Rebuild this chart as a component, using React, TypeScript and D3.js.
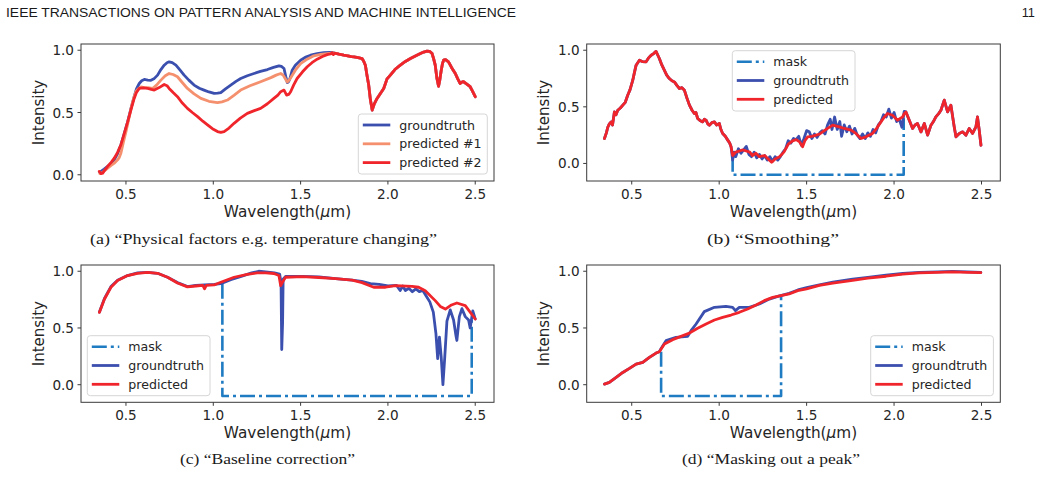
import * as d3 from "d3";

type Pt = [number, number];

// tick values shared by all four panels
const xTicks = [0.5, 1.0, 1.5, 2.0, 2.5];
const yTicks = [0.0, 0.5, 1.0];

// (a) shared tail where the three curves coincide
const tailA: Pt[] = [
  [1.70, 0.975], [1.72, 0.968], [1.747, 0.96], [1.77, 0.955], [1.79, 0.948], [1.805, 0.947],
  [1.83, 0.94], [1.852, 0.933], [1.862, 0.91], [1.871, 0.88], [1.88, 0.8], [1.89, 0.72],
  [1.9, 0.6], [1.91, 0.52], [1.922, 0.57], [1.938, 0.613], [1.956, 0.65], [1.976, 0.693],
  [1.995, 0.77], [2.014, 0.8], [2.04, 0.845], [2.071, 0.88], [2.1, 0.91], [2.129, 0.933],
  [2.16, 0.955], [2.186, 0.973], [2.205, 0.985], [2.224, 0.992], [2.24, 0.99], [2.253, 0.973],
  [2.262, 0.93], [2.271, 0.88], [2.28, 0.78], [2.29, 0.71], [2.297, 0.76], [2.304, 0.827],
  [2.312, 0.89], [2.319, 0.92], [2.33, 0.925], [2.347, 0.907], [2.365, 0.86], [2.386, 0.813],
  [2.4, 0.77], [2.414, 0.733], [2.425, 0.745], [2.433, 0.747], [2.45, 0.73], [2.471, 0.707],
  [2.485, 0.67], [2.5, 0.627],
];

const groundtruthA: Pt[] = [
  [0.35, 0.02], [0.357, 0.027], [0.375, 0.045], [0.395, 0.067], [0.415, 0.09], [0.433, 0.12],
  [0.452, 0.17], [0.471, 0.24], [0.49, 0.33], [0.51, 0.427], [0.528, 0.53], [0.547, 0.627],
  [0.56, 0.69], [0.576, 0.733], [0.59, 0.755], [0.605, 0.765], [0.625, 0.76], [0.643, 0.758],
  [0.66, 0.77], [0.681, 0.8], [0.7, 0.845], [0.719, 0.88], [0.735, 0.9], [0.747, 0.907],
  [0.765, 0.9], [0.786, 0.88], [0.81, 0.84], [0.833, 0.8], [0.86, 0.76], [0.89, 0.72],
  [0.92, 0.695], [0.947, 0.68], [0.975, 0.665], [1.005, 0.653], [1.025, 0.655], [1.043, 0.66],
  [1.07, 0.69], [1.1, 0.72], [1.13, 0.75], [1.157, 0.773], [1.195, 0.795], [1.233, 0.813],
  [1.27, 0.83], [1.31, 0.845], [1.345, 0.862], [1.376, 0.875], [1.39, 0.87], [1.405, 0.853],
  [1.415, 0.79], [1.424, 0.74], [1.432, 0.75], [1.439, 0.773], [1.452, 0.84], [1.47, 0.88],
  [1.5, 0.92], [1.53, 0.945], [1.557, 0.96], [1.595, 0.972], [1.633, 0.981], [1.665, 0.982],
  [1.69, 0.98],
];

const predicted1A: Pt[] = [
  [0.35, 0.01], [0.357, 0.01], [0.375, 0.03], [0.395, 0.053], [0.415, 0.075], [0.433, 0.093],
  [0.452, 0.12], [0.462, 0.14], [0.471, 0.173], [0.485, 0.26], [0.5, 0.347], [0.515, 0.44],
  [0.529, 0.533], [0.543, 0.61], [0.557, 0.667], [0.57, 0.69], [0.586, 0.705], [0.605, 0.7],
  [0.624, 0.699], [0.652, 0.693], [0.675, 0.72], [0.7, 0.76], [0.725, 0.795], [0.747, 0.813],
  [0.77, 0.805], [0.795, 0.787], [0.82, 0.745], [0.852, 0.693], [0.89, 0.65], [0.929, 0.613],
  [0.975, 0.59], [1.024, 0.579], [1.05, 0.585], [1.081, 0.6], [1.12, 0.64], [1.157, 0.68],
  [1.21, 0.715], [1.271, 0.747], [1.33, 0.78], [1.36, 0.8], [1.386, 0.813], [1.4, 0.8],
  [1.415, 0.765], [1.424, 0.745], [1.435, 0.76], [1.447, 0.787], [1.47, 0.84], [1.5, 0.893],
  [1.54, 0.93], [1.576, 0.955], [1.615, 0.967], [1.652, 0.973], [1.69, 0.978],
];

const predicted2A: Pt[] = [
  [0.347, 0.027], [0.357, 0.01], [0.367, 0.013], [0.38, 0.04], [0.395, 0.067], [0.415, 0.1],
  [0.433, 0.133], [0.452, 0.18], [0.471, 0.24], [0.49, 0.33], [0.51, 0.427], [0.528, 0.52],
  [0.547, 0.613], [0.56, 0.66], [0.576, 0.693], [0.6, 0.697], [0.624, 0.693], [0.645, 0.685],
  [0.662, 0.68], [0.69, 0.7], [0.719, 0.725], [0.735, 0.715], [0.747, 0.693], [0.77, 0.66],
  [0.795, 0.627], [0.82, 0.58], [0.852, 0.533], [0.88, 0.5], [0.91, 0.467], [0.94, 0.43],
  [0.967, 0.4], [0.995, 0.37], [1.024, 0.347], [1.043, 0.34], [1.062, 0.347], [1.09, 0.375],
  [1.119, 0.413], [1.155, 0.455], [1.195, 0.493], [1.235, 0.515], [1.271, 0.533], [1.31, 0.57],
  [1.347, 0.613], [1.37, 0.64], [1.386, 0.667], [1.405, 0.68], [1.42, 0.64], [1.432, 0.645],
  [1.443, 0.667], [1.46, 0.72], [1.48, 0.773], [1.51, 0.825], [1.538, 0.867], [1.565, 0.9],
  [1.595, 0.928], [1.625, 0.95], [1.652, 0.965], [1.672, 0.97], [1.68, 0.98], [1.688, 0.965],
  [1.695, 0.975],
];

// (b) smoothing: identical outside the mask
const leftB: Pt[] = [
  [0.344, 0.22], [0.355, 0.27], [0.363, 0.32], [0.372, 0.35], [0.382, 0.367], [0.39, 0.34],
  [0.401, 0.455], [0.41, 0.43], [0.42, 0.47], [0.435, 0.49], [0.449, 0.515], [0.463, 0.54],
  [0.477, 0.603], [0.49, 0.65], [0.506, 0.735], [0.515, 0.8], [0.525, 0.868], [0.544, 0.912],
  [0.56, 0.9], [0.582, 0.897], [0.595, 0.93], [0.611, 0.956], [0.625, 0.97], [0.639, 0.99],
  [0.648, 0.96], [0.658, 0.927], [0.672, 0.87], [0.687, 0.823], [0.7, 0.78], [0.715, 0.75],
  [0.73, 0.73], [0.744, 0.72], [0.758, 0.69], [0.773, 0.662], [0.787, 0.67], [0.801, 0.647],
  [0.815, 0.58], [0.83, 0.515], [0.845, 0.47], [0.858, 0.441], [0.867, 0.45], [0.877, 0.397],
  [0.89, 0.38], [0.906, 0.367], [0.915, 0.39], [0.925, 0.382], [0.935, 0.35], [0.944, 0.338],
  [0.958, 0.36], [0.973, 0.367], [0.985, 0.34], [1.001, 0.353], [1.01, 0.3], [1.02, 0.265],
  [1.035, 0.24], [1.049, 0.206], [1.06, 0.18], [1.068, 0.147],
];

const rightB: Pt[] = [
  [2.068, 0.455], [2.087, 0.382], [2.106, 0.309], [2.12, 0.34], [2.134, 0.353], [2.154, 0.279],
  [2.173, 0.353], [2.192, 0.25], [2.211, 0.338], [2.225, 0.37], [2.239, 0.411], [2.255, 0.44],
  [2.268, 0.47], [2.287, 0.559], [2.306, 0.455], [2.325, 0.515], [2.344, 0.323], [2.354, 0.235],
  [2.373, 0.265], [2.392, 0.279], [2.411, 0.25], [2.43, 0.309], [2.449, 0.265], [2.468, 0.323],
  [2.477, 0.411], [2.487, 0.294], [2.497, 0.161],
];

const groundtruthMidB: Pt[] = [
  [1.077, 0.03], [1.085, 0.1], [1.095, 0.06], [1.11, 0.13], [1.125, 0.09], [1.14, 0.12],
  [1.155, 0.15], [1.17, 0.08], [1.185, 0.06], [1.2, 0.1], [1.215, 0.05], [1.23, 0.08],
  [1.245, 0.04], [1.26, 0.07], [1.275, 0.03], [1.29, 0.06], [1.305, 0.02], [1.32, 0.06],
  [1.335, 0.03], [1.35, 0.06], [1.365, 0.1], [1.38, 0.13], [1.395, 0.2], [1.41, 0.18],
  [1.425, 0.22], [1.44, 0.21], [1.455, 0.24], [1.47, 0.16], [1.485, 0.22], [1.5, 0.29],
  [1.515, 0.28], [1.53, 0.22], [1.545, 0.26], [1.56, 0.23], [1.575, 0.27], [1.59, 0.29],
  [1.605, 0.26], [1.62, 0.34], [1.635, 0.39], [1.645, 0.3], [1.66, 0.41], [1.675, 0.3],
  [1.69, 0.37], [1.7, 0.24], [1.715, 0.34], [1.73, 0.28], [1.745, 0.33], [1.76, 0.26],
  [1.775, 0.31], [1.79, 0.25], [1.805, 0.22], [1.82, 0.26], [1.835, 0.22], [1.85, 0.27],
  [1.865, 0.24], [1.88, 0.3], [1.895, 0.27], [1.91, 0.34], [1.925, 0.37], [1.94, 0.43],
  [1.955, 0.41], [1.97, 0.48], [1.985, 0.4], [2.0, 0.45], [2.015, 0.37], [2.03, 0.39],
  [2.045, 0.32], [2.058, 0.46],
];

const predictedMidB: Pt[] = [
  [1.077, 0.07], [1.095, 0.1], [1.115, 0.11], [1.135, 0.12], [1.155, 0.11], [1.175, 0.1],
  [1.19, 0.07], [1.21, 0.09], [1.23, 0.06], [1.26, 0.07], [1.28, 0.04], [1.3, 0.01],
  [1.32, 0.04], [1.345, 0.06], [1.37, 0.1], [1.395, 0.17], [1.42, 0.2], [1.44, 0.21],
  [1.46, 0.19], [1.477, 0.147], [1.49, 0.2], [1.506, 0.235], [1.53, 0.24], [1.554, 0.25],
  [1.575, 0.26], [1.591, 0.279], [1.62, 0.31], [1.649, 0.338], [1.67, 0.33], [1.687, 0.323],
  [1.715, 0.309], [1.754, 0.294], [1.782, 0.265], [1.811, 0.22], [1.839, 0.235], [1.877, 0.265],
  [1.9, 0.31], [1.925, 0.367], [1.945, 0.41], [1.963, 0.441], [1.991, 0.426], [2.02, 0.382],
  [2.049, 0.411], [2.058, 0.44],
];

const maskB: Pt[] = [[1.077, 0.06], [1.077, -0.1], [2.055, -0.1], [2.055, 0.4]];

// (c) baseline correction
const groundtruthC: Pt[] = [
  [0.348, 0.64], [0.377, 0.76], [0.414, 0.865], [0.452, 0.92], [0.509, 0.962], [0.566, 0.985],
  [0.624, 0.99], [0.681, 0.982], [0.738, 0.947], [0.795, 0.9], [0.852, 0.865], [0.9, 0.875],
  [0.95, 0.88], [1.005, 0.885], [1.043, 0.89], [1.1, 0.925], [1.16, 0.955], [1.22, 0.985],
  [1.26, 1.0], [1.3, 0.995], [1.35, 0.985], [1.38, 0.975], [1.388, 0.9], [1.392, 0.31],
  [1.397, 0.55], [1.4, 0.93], [1.414, 0.955], [1.51, 0.955], [1.605, 0.95], [1.7, 0.935],
  [1.795, 0.922], [1.85, 0.91], [1.9, 0.89], [1.95, 0.885], [2.0, 0.87], [2.05, 0.875],
  [2.07, 0.83], [2.085, 0.87], [2.1, 0.83], [2.12, 0.85], [2.14, 0.82], [2.16, 0.845],
  [2.18, 0.82], [2.2, 0.83], [2.22, 0.78], [2.24, 0.73], [2.26, 0.64], [2.275, 0.45],
  [2.285, 0.23], [2.295, 0.42], [2.305, 0.25], [2.315, 0.0], [2.325, 0.23], [2.338, 0.56],
  [2.357, 0.66], [2.376, 0.57], [2.39, 0.43], [2.395, 0.39], [2.409, 0.6], [2.424, 0.67],
  [2.443, 0.6], [2.462, 0.57], [2.471, 0.5], [2.486, 0.65], [2.5, 0.58],
];

const predictedC: Pt[] = [
  [0.348, 0.638], [0.377, 0.755], [0.414, 0.859], [0.452, 0.918], [0.509, 0.962], [0.566, 0.982],
  [0.624, 0.99], [0.681, 0.982], [0.738, 0.947], [0.795, 0.897], [0.852, 0.862], [0.9, 0.87],
  [0.94, 0.875], [0.95, 0.845], [0.96, 0.875], [1.005, 0.879], [1.043, 0.903], [1.119, 0.947],
  [1.195, 0.972], [1.252, 0.985], [1.3, 0.985], [1.347, 0.98], [1.376, 0.962], [1.386, 0.873],
  [1.395, 0.9], [1.414, 0.947], [1.51, 0.952], [1.605, 0.945], [1.7, 0.935], [1.795, 0.922],
  [1.852, 0.9], [1.919, 0.859], [1.986, 0.859], [2.043, 0.873], [2.138, 0.867], [2.176, 0.859],
  [2.214, 0.829], [2.271, 0.741], [2.3, 0.69], [2.329, 0.667], [2.36, 0.7], [2.395, 0.72],
  [2.443, 0.697], [2.5, 0.579],
];

const maskC: Pt[] = [[1.052, 0.89], [1.052, -0.1], [2.48, -0.1], [2.48, 0.57]];

// (d) masking out a peak
const groundtruthD: Pt[] = [
  [0.344, 0.005], [0.372, 0.02], [0.411, 0.064], [0.449, 0.108], [0.487, 0.144], [0.525, 0.182],
  [0.563, 0.197], [0.601, 0.241], [0.639, 0.279], [0.658, 0.291], [0.668, 0.32], [0.696, 0.388],
  [0.753, 0.417], [0.82, 0.426], [0.839, 0.476], [0.868, 0.535], [0.915, 0.644], [0.973, 0.682],
  [1.039, 0.691], [1.077, 0.682], [1.093, 0.653], [1.115, 0.682], [1.172, 0.682], [1.23, 0.711],
  [1.287, 0.755], [1.34, 0.78], [1.4, 0.805], [1.45, 0.835], [1.5, 0.855], [1.573, 0.88],
  [1.65, 0.905], [1.763, 0.93], [1.85, 0.945], [1.954, 0.965], [2.05, 0.98], [2.144, 0.99],
  [2.25, 0.995], [2.334, 0.998], [2.42, 0.995], [2.496, 0.99],
];

const predictedD: Pt[] = [
  [0.344, 0.005], [0.372, 0.02], [0.411, 0.064], [0.449, 0.108], [0.487, 0.144], [0.525, 0.182],
  [0.563, 0.197], [0.601, 0.241], [0.639, 0.279], [0.658, 0.291], [0.687, 0.358], [0.734, 0.397],
  [0.782, 0.426], [0.83, 0.455], [0.877, 0.497], [0.925, 0.535], [0.973, 0.57], [1.02, 0.594],
  [1.068, 0.614], [1.115, 0.638], [1.163, 0.667], [1.211, 0.703], [1.258, 0.741], [1.306, 0.77],
  [1.354, 0.785], [1.4, 0.8], [1.449, 0.829], [1.5, 0.845], [1.573, 0.876], [1.65, 0.895],
  [1.763, 0.92], [1.85, 0.94], [1.954, 0.956], [2.05, 0.975], [2.144, 0.985], [2.25, 0.99],
  [2.334, 0.994], [2.42, 0.99], [2.496, 0.988],
];

const maskD: Pt[] = [[0.668, 0.29], [0.668, -0.1], [1.354, -0.1], [1.354, 0.785]];

const BLUE = "#3b4fae";
const SALMON = "#f5906e";
const RED = "#f0252b";
const MASK = "#1f7bc2";
const DASHDOT = "15 4 3 4";
const FONT = "DejaVu Sans, sans-serif";
const SERIF = "Liberation Serif, DejaVu Serif, serif";

type Series = { data: Pt[]; color: string; label: string; dash?: string };

type PanelSpec = {
  left: number;
  top: number;
  width: number;
  height: number;
  yDomain: [number, number];
  series: Series[];
  legend: { x: number; y: number; w: number; h: number };
  caption: string;
  captionX: number;
  captionW: number;
  captionY: number;
};

const xDomain: [number, number] = [0.2425, 2.6075];

const panels: PanelSpec[] = [
  {
    left: 81, top: 44, width: 413, height: 137, yDomain: [-0.05, 1.05],
    series: [
      { data: groundtruthA.concat(tailA), color: BLUE, label: "groundtruth" },
      { data: predicted1A.concat(tailA), color: SALMON, label: "predicted #1" },
      { data: predicted2A.concat(tailA), color: RED, label: "predicted #2" },
    ],
    legend: { x: 358.3, y: 114, w: 129, h: 60 },
    caption: "(a) \u201CPhysical factors e.g. temperature changing\u201D",
    captionX: 263.5, captionW: 347, captionY: 244,
  },
  {
    left: 586.7, top: 44, width: 413.6, height: 137, yDomain: [-0.155, 1.055],
    series: [
      { data: maskB, color: MASK, label: "mask", dash: DASHDOT },
      { data: leftB.concat(groundtruthMidB, rightB), color: BLUE, label: "groundtruth" },
      { data: leftB.concat(predictedMidB, rightB), color: RED, label: "predicted" },
    ],
    legend: { x: 732.3, y: 50.7, w: 122.7, h: 60.3 },
    caption: "(b) \u201CSmoothing\u201D",
    captionX: 773, captionW: 132, captionY: 244,
  },
  {
    left: 81, top: 265, width: 413, height: 137.3, yDomain: [-0.155, 1.055],
    series: [
      { data: maskC, color: MASK, label: "mask", dash: DASHDOT },
      { data: groundtruthC, color: BLUE, label: "groundtruth" },
      { data: predictedC, color: RED, label: "predicted" },
    ],
    legend: { x: 87.3, y: 335.7, w: 122.7, h: 60 },
    caption: "(c) \u201CBaseline correction\u201D",
    captionX: 267.5, captionW: 175, captionY: 464,
  },
  {
    left: 586.7, top: 265, width: 413.6, height: 137.3, yDomain: [-0.155, 1.055],
    series: [
      { data: maskD, color: MASK, label: "mask", dash: DASHDOT },
      { data: groundtruthD, color: BLUE, label: "groundtruth" },
      { data: predictedD, color: RED, label: "predicted" },
    ],
    legend: { x: 870.7, y: 335.7, w: 122.7, h: 60 },
    caption: "(d) \u201CMasking out a peak\u201D",
    captionX: 771, captionW: 178, captionY: 464,
  },
];

function Panel({ p, idx }: { p: PanelSpec; idx: number }) {
  const x = d3.scaleLinear().domain(xDomain).range([p.left, p.left + p.width]);
  const y = d3.scaleLinear().domain(p.yDomain).range([p.top + p.height, p.top]);
  const line = d3
    .line<Pt>()
    .x((d) => x(d[0]))
    .y((d) => y(d[1]));
  const bottom = p.top + p.height;
  const clipId = `clip-${idx}`;

  return (
    <g>
      <clipPath id={clipId}>
        <rect x={p.left} y={p.top} width={p.width} height={p.height} />
      </clipPath>

      {/* data lines */}
      <g clipPath={`url(#${clipId})`}>
        {p.series.map((s, i) => (
          <path
            key={i}
            d={line(s.data) || ""}
            fill="none"
            stroke={s.color}
            strokeWidth={s.dash ? 2.6 : 2.8}
            strokeDasharray={s.dash}
            strokeLinejoin="round"
            strokeLinecap={s.dash ? "butt" : "round"}
          />
        ))}
      </g>

      {/* spines */}
      <rect x={p.left} y={p.top} width={p.width} height={p.height} fill="none" stroke="#3a3a3a" strokeWidth={1} />

      {/* x axis */}
      {xTicks.map((t) => (
        <g key={`x${t}`}>
          <line x1={x(t)} x2={x(t)} y1={bottom} y2={bottom + 3.5} stroke="#3a3a3a" />
          <text x={x(t)} y={bottom + 18} textAnchor="middle" fontSize={13.6} fill="#262626" fontFamily={FONT}>
            {d3.format(".1f")(t)}
          </text>
        </g>
      ))}
      {/* y axis */}
      {yTicks.map((t) => (
        <g key={`y${t}`}>
          <line x1={p.left - 3.5} x2={p.left} y1={y(t)} y2={y(t)} stroke="#3a3a3a" />
          <text x={p.left - 7} y={y(t) + 5} textAnchor="end" fontSize={13.6} fill="#262626" fontFamily={FONT}>
            {d3.format(".1f")(t)}
          </text>
        </g>
      ))}

      <text x={p.left + p.width / 2} y={bottom + 36} textAnchor="middle" fontSize={15.3} fill="#262626" fontFamily={FONT}>
        Wavelength(<tspan fontStyle="italic">μ</tspan>m)
      </text>
      <text
        transform={`translate(${p.left - 37.3},${p.top + p.height / 2}) rotate(-90)`}
        textAnchor="middle"
        fontSize={15}
        fill="#262626"
        fontFamily={FONT}
      >
        Intensity
      </text>

      {/* legend */}
      <rect x={p.legend.x} y={p.legend.y} width={p.legend.w} height={p.legend.h} rx={3} fill="#fff" fillOpacity={0.8} stroke="#d6d6d6" />
      {p.series.map((s, i) => {
        const ly = p.legend.y + 11 + i * 18.8;
        return (
          <g key={`l${i}`}>
            <line
              x1={p.legend.x + 4.5}
              x2={p.legend.x + 32}
              y1={ly}
              y2={ly}
              stroke={s.color}
              strokeWidth={s.dash ? 2.6 : 2.8}
              strokeDasharray={s.dash}
            />
            <text x={p.legend.x + 41} y={ly + 4.5} fontSize={12.6} fill="#262626" fontFamily={FONT}>
              {s.label}
            </text>
          </g>
        );
      })}

      {/* caption */}
      <text
        x={p.captionX - p.captionW / 2}
        y={p.captionY}
        textLength={p.captionW}
        lengthAdjust="spacingAndGlyphs"
        fontSize={13.8}
        fill="#1a1a1a"
        fontFamily={SERIF}
      >
        {p.caption}
      </text>
    </g>
  );
}

export default function App() {
  return (
    <svg
      width={1041}
      height={477}
      style={{ position: "absolute", left: 0, top: 0, background: "#fff" }}
    >
      <rect width={1041} height={477} fill="#fff" />
      <text x={6} y={16.7} fontSize={12.8} fill="#1a1a1a" fontFamily="Liberation Sans, Arial, sans-serif" textLength={510} lengthAdjust="spacingAndGlyphs">
        IEEE TRANSACTIONS ON PATTERN ANALYSIS AND MACHINE INTELLIGENCE
      </text>
      <text x={1035} y={16.7} fontSize={12.8} fill="#1a1a1a" textAnchor="end" fontFamily="Liberation Sans, Arial, sans-serif">
        11
      </text>
      {panels.map((p, i) => (
        <Panel key={i} p={p} idx={i} />
      ))}
    </svg>
  );
}
